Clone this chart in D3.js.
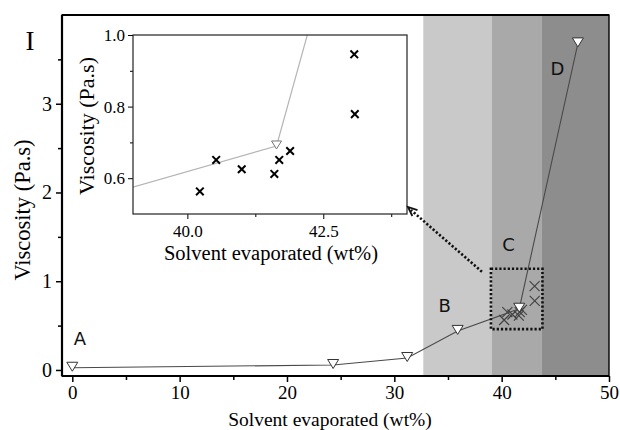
<!DOCTYPE html>
<html>
<head>
<meta charset="utf-8">
<script src="https://cdn.jsdelivr.net/npm/d3@7"></script>
<style>
  body { margin: 0; background: #fff; }
  svg { display: block; }
</style>
</head>
<body>
<div id="chart"></div>
<script>

// main series: viscosity vs solvent evaporated (triangles)
const solvent = [0, 24.3, 31.2, 35.9, 41.64, 47.1];
const viscosity = [0.025, 0.056, 0.135, 0.44, 0.69, 3.68];

// repeat measurements near the gel point (crosses)
const crossSolvent = [40.23, 40.53, 41.0, 41.6, 41.69, 41.89, 43.07, 43.08];
const crossViscosity = [0.563, 0.651, 0.625, 0.612, 0.651, 0.676, 0.946, 0.779];

// shaded regions B, C, D
const bandStart = [32.7, 39.1, 43.7];
const bandEnd = [39.1, 43.7, 50];

// region letters and where they sit (data units)
const regionLabels = ["A", "B", "C", "D"];
const regionLabelX = [0.7, 34.7, 40.65, 45.2];
const regionLabelY = [0.35, 0.73, 1.41, 3.4];

// zoom window drawn on the main plot
const zoomBoxX = [39.0, 43.8];
const zoomBoxY = [0.46, 1.14];

const mainXTicks = [0, 10, 20, 30, 40, 50];
const mainYTicks = [0, 1, 2, 3];
const insetXTicks = [40.0, 42.5];
const insetYTicks = [0.6, 0.8, 1.0];

const W = 620, H = 430;
const svg = d3.select("#chart").append("svg")
  .attr("width", W).attr("height", H)
  .style("font-family", "'Liberation Serif', 'Times New Roman', serif");

// ---- main plot ----
const pL = 62, pR = 609, pT = 15, pB = 376;
const x = d3.scaleLinear().domain([-0.96, 50]).range([pL, pR]);
const y = d3.scaleLinear().domain([-0.068, 4.0]).range([pB, pT]);

const bandColors = ["#c9c9c9", "#a9a9a9", "#8d8d8d"];
svg.append("g").selectAll("rect")
  .data(bandStart)
  .join("rect")
  .attr("x", (d) => x(d))
  .attr("width", (d, i) => x(bandEnd[i]) - x(d))
  .attr("y", pT)
  .attr("height", pB - pT)
  .attr("fill", (d, i) => bandColors[i]);

// axes
const xAxis = svg.append("g")
  .attr("transform", `translate(0,${pB})`)
  .call(d3.axisBottom(x).tickValues(mainXTicks).tickSize(6).tickPadding(4).tickFormat(d3.format("d")));
svg.append("g")
  .attr("transform", `translate(0,${pB})`)
  .call(d3.axisBottom(x).tickValues([5, 15, 25, 35, 45]).tickSize(4).tickFormat(""));
const yAxis = svg.append("g")
  .attr("transform", `translate(${pL},0)`)
  .call(d3.axisLeft(y).tickValues(mainYTicks).tickSize(6).tickPadding(4).tickFormat(d3.format("d")));
svg.append("g")
  .attr("transform", `translate(${pL},0)`)
  .call(d3.axisLeft(y).tickValues([0.5, 1.5, 2.5, 3.5]).tickSize(4).tickFormat(""));

svg.selectAll(".domain").remove();
svg.selectAll(".tick line").attr("stroke", "#000").attr("stroke-width", 1.5);
xAxis.selectAll("text").attr("font-size", 19).attr("font-family", "'Liberation Serif', serif").attr("fill", "#000");
yAxis.selectAll("text").attr("font-size", 20).attr("font-family", "'Liberation Serif', serif").attr("fill", "#000");

// frame
svg.append("rect")
  .attr("x", pL).attr("y", pT)
  .attr("width", pR - pL).attr("height", pB - pT)
  .attr("fill", "none").attr("stroke", "#000").attr("stroke-width", 1.4);
svg.append("line").attr("x1", pL).attr("x2", pR).attr("y1", pB).attr("y2", pB)
  .attr("stroke", "#000").attr("stroke-width", 2.2);
svg.append("line").attr("x1", pL).attr("x2", pL).attr("y1", pT).attr("y2", pB)
  .attr("stroke", "#000").attr("stroke-width", 2.2);
svg.append("line").attr("x1", pL).attr("x2", pR).attr("y1", pT).attr("y2", pT)
  .attr("stroke", "#000").attr("stroke-width", 2);

// axis titles
svg.append("text")
  .attr("x", 330).attr("y", 425.5)
  .attr("text-anchor", "middle").attr("font-size", 19.5)
  .text("Solvent evaporated (wt%)");
svg.append("text")
  .attr("transform", "translate(30,210) rotate(-90)")
  .attr("text-anchor", "middle").attr("font-size", 22.5)
  .text("Viscosity (Pa.s)");

svg.append("text")
  .attr("x", 30).attr("y", 50)
  .attr("text-anchor", "middle").attr("font-size", 27)
  .text("I");

// region letters
svg.append("g").selectAll("text")
  .data(regionLabels)
  .join("text")
  .attr("x", (d, i) => x(regionLabelX[i]))
  .attr("y", (d, i) => y(regionLabelY[i]))
  .attr("text-anchor", "middle")
  .attr("dominant-baseline", "central")
  .attr("font-family", "'DejaVu Sans', sans-serif")
  .attr("font-size", 18)
  .attr("fill", "#111")
  .text((d) => d);

const mainPts = solvent.map((s, i) => ({ x: s, y: viscosity[i] }));
const crossPts = crossSolvent.map((s, i) => ({ x: s, y: crossViscosity[i] }));

// crosses (main)
const crossPath = (r) => `M${-r},${-r}L${r},${r}M${-r},${r}L${r},${-r}`;
svg.append("g").selectAll("path")
  .data(crossPts)
  .join("path")
  .attr("transform", (d) => `translate(${x(d.x)},${y(d.y)})`)
  .attr("d", crossPath(5))
  .attr("stroke", "#404040")
  .attr("stroke-width", 1.1)
  .attr("fill", "none");

// connecting line
const line = d3.line().x((d) => x(d.x)).y((d) => y(d.y));
svg.append("path")
  .datum(mainPts)
  .attr("d", line)
  .attr("fill", "none")
  .attr("stroke", "#4a4a4a")
  .attr("stroke-width", 1.1);

// down triangles
const triPath = (w, h) => `M${-w / 2},${-h / 2}L${w / 2},${-h / 2}L0,${h / 2}Z`;
svg.append("g").selectAll("path")
  .data(mainPts)
  .join("path")
  .attr("transform", (d) => `translate(${x(d.x)},${y(d.y) - 1})`)
  .attr("d", triPath(11, 9))
  .attr("fill", "#fff")
  .attr("stroke", "#333")
  .attr("stroke-width", 1);

// dotted zoom box
svg.append("rect")
  .attr("x", x(zoomBoxX[0])).attr("y", y(zoomBoxY[1]))
  .attr("width", x(zoomBoxX[1]) - x(zoomBoxX[0]))
  .attr("height", y(zoomBoxY[0]) - y(zoomBoxY[1]))
  .attr("fill", "none")
  .attr("stroke", "#111")
  .attr("stroke-width", 2.6)
  .attr("stroke-dasharray", "2.2,2");

// ---- inset ----
const iL = 133, iR = 407, iT = 35, iB = 214;
const ix = d3.scaleLinear().domain([39.0, 44.04]).range([iL, iR]);
const iy = d3.scaleLinear().domain([0.5, 1.0]).range([iB, iT]);

const inset = svg.append("g");
inset.append("rect")
  .attr("x", iL).attr("y", iT)
  .attr("width", iR - iL).attr("height", iB - iT)
  .attr("fill", "#fff");

svg.append("defs").append("clipPath").attr("id", "insetClip")
  .append("rect")
  .attr("x", iL).attr("y", iT)
  .attr("width", iR - iL).attr("height", iB - iT);

const iLine = d3.line().x((d) => ix(d.x)).y((d) => iy(d.y));
inset.append("path")
  .datum(mainPts)
  .attr("clip-path", "url(#insetClip)")
  .attr("d", iLine)
  .attr("fill", "none")
  .attr("stroke", "#b4b4b4")
  .attr("stroke-width", 1.2);

inset.append("g")
  .attr("clip-path", "url(#insetClip)")
  .selectAll("path")
  .data(mainPts)
  .join("path")
  .attr("transform", (d) => `translate(${ix(d.x)},${iy(d.y) - 1})`)
  .attr("d", triPath(10, 8))
  .attr("fill", "#fff")
  .attr("stroke", "#777")
  .attr("stroke-width", 1);

inset.append("g").selectAll("path")
  .data(crossPts)
  .join("path")
  .attr("transform", (d) => `translate(${ix(d.x)},${iy(d.y)})`)
  .attr("d", crossPath(3.8))
  .attr("stroke", "#000")
  .attr("stroke-width", 2)
  .attr("fill", "none");

const ixAxis = inset.append("g")
  .attr("transform", `translate(0,${iB})`)
  .call(d3.axisBottom(ix).tickValues(insetXTicks).tickSize(5).tickPadding(6).tickFormat(d3.format(".1f")));
inset.append("g")
  .attr("transform", `translate(0,${iB})`)
  .call(d3.axisBottom(ix).tickValues([41.25, 43.75]).tickSize(3).tickFormat(""));
const iyAxis = inset.append("g")
  .attr("transform", `translate(${iL},0)`)
  .call(d3.axisLeft(iy).tickValues(insetYTicks).tickSize(5).tickPadding(3).tickFormat(d3.format(".1f")));
inset.append("g")
  .attr("transform", `translate(${iL},0)`)
  .call(d3.axisLeft(iy).tickValues([0.7, 0.9]).tickSize(3).tickFormat(""));

inset.selectAll(".domain").remove();
inset.selectAll(".tick line").attr("stroke", "#000").attr("stroke-width", 1);
ixAxis.selectAll("text").attr("font-size", 17).attr("font-family", "'Liberation Serif', serif").attr("fill", "#000");
iyAxis.selectAll("text").attr("font-size", 17).attr("font-family", "'Liberation Serif', serif").attr("fill", "#000");

inset.append("rect")
  .attr("x", iL).attr("y", iT)
  .attr("width", iR - iL).attr("height", iB - iT)
  .attr("fill", "none").attr("stroke", "#222").attr("stroke-width", 1.2);

inset.append("text")
  .attr("x", 271).attr("y", 260)
  .attr("text-anchor", "middle").attr("font-size", 20.5)
  .text("Solvent evaporated (wt%)");
inset.append("text")
  .attr("transform", "translate(94,126) rotate(-90)")
  .attr("text-anchor", "middle").attr("font-size", 22)
  .text("Viscosity (Pa.s)");

// dotted arrow from zoom box to inset corner
const arrowFrom = [x(zoomBoxX[0]) - 9, y(zoomBoxY[1]) + 3];
const arrowTo = [iR + 1, iB - 7];
svg.append("line")
  .attr("x1", arrowFrom[0]).attr("y1", arrowFrom[1])
  .attr("x2", arrowTo[0] + 3).attr("y2", arrowTo[1] + 3)
  .attr("stroke", "#111")
  .attr("stroke-width", 2.6)
  .attr("stroke-dasharray", "2.2,2");
const ang = Math.atan2(arrowFrom[1] - arrowTo[1], arrowFrom[0] - arrowTo[0]);
const headLen = 10, spread = 0.4;
svg.append("path")
  .attr("d", `M${arrowTo[0] + headLen * Math.cos(ang - spread)},${arrowTo[1] + headLen * Math.sin(ang - spread)}` +
    `L${arrowTo[0]},${arrowTo[1]}` +
    `L${arrowTo[0] + headLen * Math.cos(ang + spread)},${arrowTo[1] + headLen * Math.sin(ang + spread)}`)
  .attr("fill", "none")
  .attr("stroke", "#111")
  .attr("stroke-width", 1.8);
</script>
</body>
</html>
